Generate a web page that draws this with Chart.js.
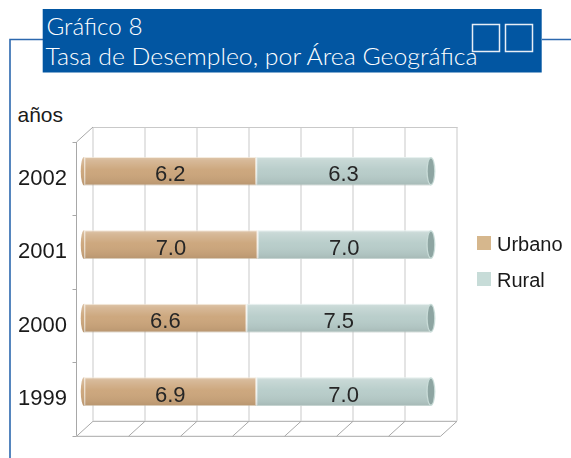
<!DOCTYPE html>
<html><head><meta charset="utf-8">
<script src="https://cdn.jsdelivr.net/npm/chart.js@4.4.0/dist/chart.umd.min.js"></script>
<style>
html,body{margin:0;padding:0;background:#fff;}
#wrap{position:relative;width:571px;height:458px;overflow:hidden;}
#wrap svg,#wrap canvas{position:absolute;left:0;top:0;}
</style></head><body>
<div id="wrap">
<svg width="571" height="458" xmlns="http://www.w3.org/2000/svg">
  <path d="M10 458 V39.5 H43 M542 39.5 H571" stroke="#2C68AE" stroke-width="1.6" fill="none"/>
  <rect x="42.7" y="9" width="499" height="63.5" fill="#0256A2"/>
  <text x="46.5" y="35" font-family="Lato, 'Open Sans', sans-serif" font-weight="300" font-size="24" fill="#fff" textLength="96" lengthAdjust="spacingAndGlyphs">Gráfico 8</text>
  <text x="45.5" y="65" font-family="Lato, 'Open Sans', sans-serif" font-weight="300" font-size="24" fill="#fff" textLength="432" lengthAdjust="spacingAndGlyphs">Tasa de Desempleo, por Área Geográfica</text>
  <rect x="472.5" y="24.5" width="27" height="27" fill="none" stroke="#E8EEF6" stroke-width="1.5"/>
  <rect x="505.5" y="24.5" width="27" height="27" fill="none" stroke="#E8EEF6" stroke-width="1.5"/>
  <text x="17.5" y="122" font-family="'Liberation Sans', Arial, sans-serif" font-size="21" fill="#1a1a1a">años</text>
</svg>
<canvas id="c" width="571" height="458"></canvas>
</div>
<script>
// ---- data ----
const years = ['2002', '2001', '2000', '1999'];
const urbano = [6.2, 7.0, 6.6, 6.9];
const rural = [6.3, 7.0, 7.5, 7.0];
const seriesNames = ['Urbano', 'Rural'];
const axisMin = 0;
const axisMax = 105;
const axisStep = 15;

// ---- styling ----
const baseColors = ['#CCA67C', '#B8CDCA'];
const legendColors = ['#D6B78D', '#C7DCD8'];
const DX = 16.5, DY = -15;   // 3D depth offset

const totals = urbano.map((u, i) => u + rural[i]);
const urbanoPct = urbano.map((u, i) => u / totals[i] * 100);
const ruralPct = rural.map((r, i) => r / totals[i] * 100);
const rawValues = [urbano, rural];

const LABEL_FONT = "22px 'Liberation Sans', Arial, sans-serif";

const threeD = {
  id: 'threeD',
  beforeDatasetsDraw(chart) {
    const {ctx, chartArea: a, scales: {x, y}} = chart;
    ctx.save();
    // back wall gridlines
    ctx.strokeStyle = '#C9C9C9';
    ctx.lineWidth = 1;
    ctx.beginPath();
    for (let v = axisMin; v <= axisMax + 1e-9; v += axisStep) {
      const px = Math.round(x.getPixelForValue(v)) + DX;
      ctx.moveTo(px + 0.5, a.top + DY);
      ctx.lineTo(px + 0.5, a.bottom + DY);
    }
    // back wall top edge
    ctx.moveTo(x.getPixelForValue(axisMin) + DX, a.top + DY + 0.5);
    ctx.lineTo(x.getPixelForValue(axisMax) + DX + 1, a.top + DY + 0.5);
    ctx.stroke();

    // floor + left wall
    ctx.strokeStyle = '#A8A8A8';
    ctx.beginPath();
    const xl = Math.round(x.getPixelForValue(axisMin)) + 0.5;
    const xr = Math.round(x.getPixelForValue(axisMax)) + 0.5;
    ctx.moveTo(xl, a.bottom + 0.5); ctx.lineTo(xr, a.bottom + 0.5);
    ctx.moveTo(xl + DX, a.bottom + DY + 0.5); ctx.lineTo(xr + DX, a.bottom + DY + 0.5);
    for (let v = axisMin; v <= axisMax + 1e-9; v += axisStep) {
      const px = Math.round(x.getPixelForValue(v)) + 0.5;
      ctx.moveTo(px, a.bottom + 0.5);
      ctx.lineTo(px + DX, a.bottom + DY + 0.5);
    }
    // left wall
    ctx.moveTo(xl, a.top); ctx.lineTo(xl, a.bottom);
    ctx.moveTo(xl, a.top); ctx.lineTo(xl + DX, a.top + DY);
    // category ticks
    const n = years.length;
    for (let i = 0; i <= n; i++) {
      const ty = Math.round(a.top + i * (a.bottom - a.top) / n) + 0.5;
      ctx.moveTo(xl - 4, ty); ctx.lineTo(xl, ty);
    }
    ctx.stroke();
    ctx.restore();

    // shift bars to mid depth
    ctx.save();
    ctx.translate(DX / 2, DY / 2);
  },
  afterDatasetsDraw(chart) {
    const {ctx} = chart;
    chart.data.datasets.forEach((ds, di) => {
      const meta = chart.getDatasetMeta(di);
      meta.data.forEach((el, i) => {
        const p = el.getProps(['x', 'y', 'base', 'height'], true);
        const top = p.y - p.height / 2, bot = p.y + p.height / 2;
        const left = Math.min(p.x, p.base), right = Math.max(p.x, p.base);
        // left cap for first series
        if (di === 0) {
          ctx.fillStyle = baseColors[0];
          ctx.beginPath();
          ctx.ellipse(left, p.y, 3.5, p.height / 2, 0, Math.PI / 2, Math.PI * 1.5);
          ctx.fill();
        }
        // cylinder shading
        const g = ctx.createLinearGradient(0, top, 0, bot);
        g.addColorStop(0, 'rgba(255,255,255,0.38)');
        g.addColorStop(0.12, 'rgba(255,255,255,0.22)');
        g.addColorStop(0.45, 'rgba(255,255,255,0.02)');
        g.addColorStop(0.85, 'rgba(0,0,0,0.05)');
        g.addColorStop(1, 'rgba(0,0,0,0.10)');
        ctx.fillStyle = g;
        ctx.beginPath();
        if (di === 0) {
          ctx.ellipse(left, p.y, 3.5, p.height / 2, 0, Math.PI / 2, Math.PI * 1.5);
          ctx.lineTo(right, top); ctx.lineTo(right, bot); ctx.closePath();
        } else {
          ctx.rect(left, top, right - left, p.height);
        }
        ctx.fill();
        // right end face for last series
        if (di === chart.data.datasets.length - 1) {
          ctx.fillStyle = '#C9DCD8';
          ctx.beginPath();
          ctx.ellipse(right, p.y, 4.5, p.height / 2, 0, 0, Math.PI * 2);
          ctx.fill();
          ctx.fillStyle = '#8EA5A2';
          ctx.beginPath();
          ctx.ellipse(right, p.y, 3.2, p.height / 2 - 1.5, 0, 0, Math.PI * 2);
          ctx.fill();
        }
        // value label
        ctx.fillStyle = '#262626';
        ctx.font = LABEL_FONT;
        ctx.textAlign = 'center';
        ctx.textBaseline = 'alphabetic';
        ctx.fillText(rawValues[di][i].toFixed(1), (left + right) / 2, p.y + 10);
      });
    });
    ctx.restore();
  },
  afterDraw(chart) {
    const {ctx} = chart;
    ctx.save();
    chart.data.datasets.forEach((ds, di) => {
      const sy = 236 + di * 36;
      ctx.fillStyle = legendColors[di];
      ctx.fillRect(477, sy, 14, 14);
      ctx.fillStyle = '#1a1a1a';
      ctx.font = "20px 'Liberation Sans', Arial, sans-serif";
      ctx.textAlign = 'left';
      ctx.textBaseline = 'alphabetic';
      ctx.fillText(ds.label, 497, sy + 14.5);
    });
    ctx.restore();
  }
};

new Chart(document.getElementById('c'), {
  type: 'bar',
  data: {
    labels: years,
    datasets: [
      {label: seriesNames[0], data: urbanoPct, backgroundColor: baseColors[0],
       borderColor: 'rgba(230,205,170,0.6)', borderWidth: 1, borderSkipped: false},
      {label: seriesNames[1], data: ruralPct, backgroundColor: baseColors[1],
       borderColor: 'rgba(215,232,228,0.9)', borderWidth: 1, borderSkipped: false}
    ]
  },
  options: {
    indexAxis: 'y',
    responsive: false,
    animation: false,
    devicePixelRatio: 1,
    layout: {padding: {left: 0, top: 142, right: 131, bottom: 20}},
    datasets: {bar: {categoryPercentage: 1, barPercentage: 0.39, clip: false}},
    plugins: {legend: {display: false}, tooltip: {enabled: false}, title: {display: false}},
    scales: {
      x: {stacked: true, display: false, min: axisMin, max: axisMax},
      y: {
        stacked: true,
        grid: {display: false, drawTicks: false},
        border: {display: false},
        ticks: {color: '#1a1a1a', padding: 9,
                font: {family: "'Liberation Sans', Arial, sans-serif", size: 22}},
        afterFit(scale) { scale.width = 76; }
      }
    }
  },
  plugins: [threeD]
});
</script>
</body></html>
